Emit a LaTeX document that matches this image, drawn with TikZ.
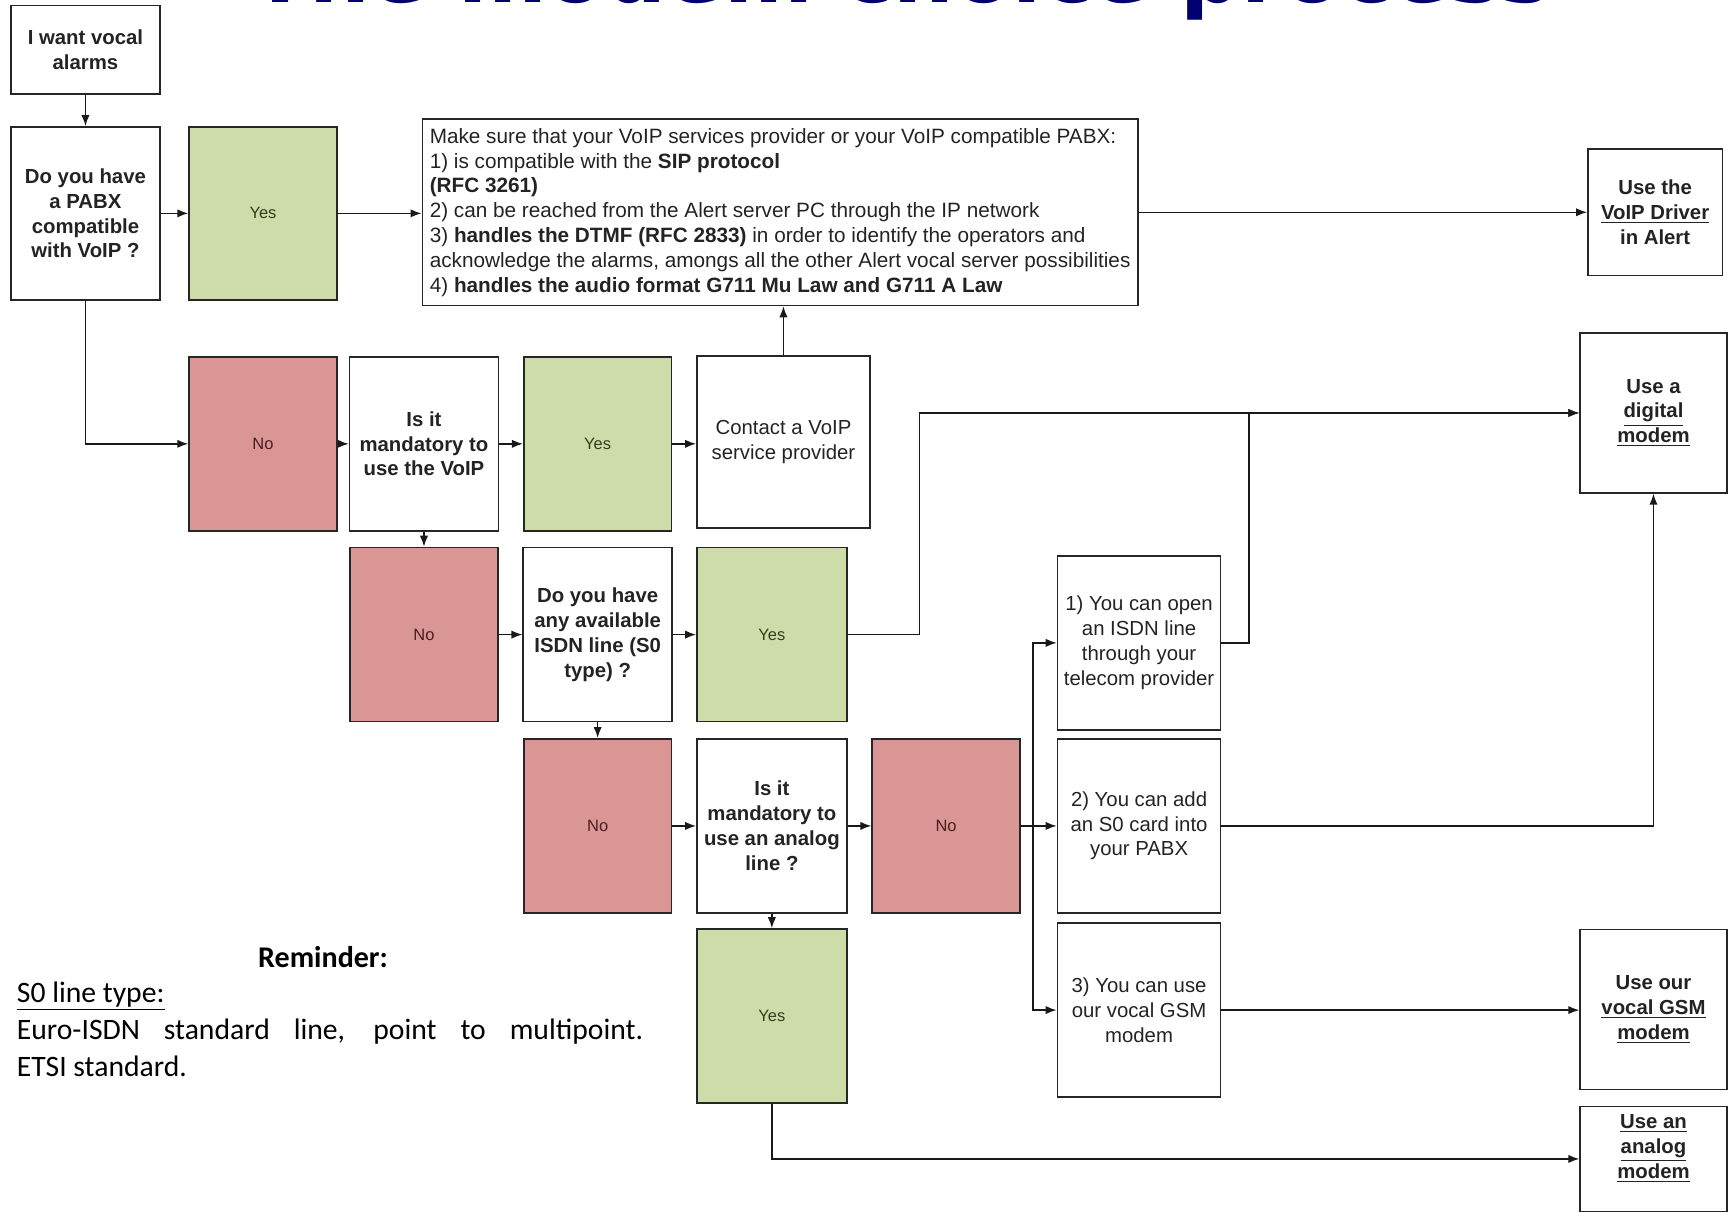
\documentclass[tikz,border=0pt]{standalone}
\usepackage{fontspec}
\setmainfont{Liberation Sans}
\newfontfamily\remfont{Carlito}
\newfontfamily\titlefont{DejaVu Sans}
\usetikzlibrary{positioning, arrows.meta}

\definecolor{yesgreen}{RGB}{205,220,168}
\definecolor{nored}{RGB}{217,150,148}
\definecolor{yestext}{RGB}{50,62,28}
\definecolor{notext}{RGB}{75,30,30}
\definecolor{titleblue}{RGB}{0,0,110}
\definecolor{boxtext}{RGB}{35,35,35}

\tikzset{
  box/.style={draw=black!85, line width=0.8pt, inner sep=1mm, align=center, text=boxtext,
    font=\fontsize{10.5}{12.8}\selectfont},
  qbox/.style={box, font=\fontsize{10.5}{12.8}\selectfont\bfseries, minimum width=27mm, minimum height=31.6mm},
  yesbox/.style={box, fill=yesgreen, text=yestext, font=\fontsize{8.5}{10}\selectfont,
    minimum width=26.8mm, minimum height=31.6mm},
  nobox/.style={box, fill=nored, text=notext, font=\fontsize{8.5}{10}\selectfont,
    minimum width=26.8mm, minimum height=31.6mm},
  optbox/.style={box, minimum width=29.6mm, minimum height=31.6mm},
  endbox/.style={box, font=\fontsize{10.5}{12.8}\selectfont\bfseries, minimum width=26.6mm},
  arr/.style={draw=black!90, line width=0.75pt, -{Latex[length=2mm, width=1.5mm]}},
}

\begin{document}
\begin{tikzpicture}[x=0.2mm, y=-0.2mm]
    \useasboundingbox (0,0) rectangle (1568,1099);
    \clip (0,0) rectangle (1568,1099);

    % title, cut by the top edge
    \node[anchor=base west, inner sep=0, text=titleblue, font=\titlefont\bfseries\fontsize{44}{50}\selectfont] (title) at (228,2) {The modem choice process};

    % first question
    \node[box, minimum width=27mm, minimum height=16mm, font=\fontsize{10.5}{12.8}\selectfont\bfseries] (start) at (77.5,45) {I want vocal\\alarms};
    \node[qbox, minimum height=31.4mm] (pabx) at (77.5,193.5) {Do you have\\a PABX\\compatible\\with VoIP ?};
    \node[yesbox, minimum height=31.4mm] (yes1) at (238.5,193.5) {Yes};
    \node[box, minimum width=129.8mm, minimum height=33.8mm, align=left, font=\fontsize{10.7}{12.8}\selectfont] (info) at (707.5,192.5) {Make sure that your VoIP services provider or your VoIP compatible PABX:\\
        1) is compatible with the \textbf{SIP protocol}\\
        \textbf{(RFC 3261)}\\
        2) can be reached from the Alert server PC through the IP network\\
        3) \textbf{handles the DTMF (RFC 2833)} in order to identify the operators and\\
        acknowledge the alarms, amongs all the other Alert vocal server possibilities\\
        4) \textbf{handles the audio format G711 Mu Law and G711 A Law}};
    \node[endbox, minimum width=24.4mm, minimum height=23mm] (driver) at (1501,192.5) {Use the\\\underline{VoIP Driver}\\in Alert};

    % VoIP row
    \node[nobox] (no1) at (238.5,402.5) {No};
    \node[qbox] (voipq) at (384.5,402.5) {Is it\\mandatory to\\use the VoIP};
    \node[yesbox] (yes2) at (542,402.5) {Yes};
    \node[box, minimum width=31.4mm, minimum height=31.2mm] (contact) at (710.5,401) {Contact a VoIP\\service provider};
    \node[endbox, minimum height=29mm] (digital) at (1499.5,374.5) {Use a\\\underline{digital}\\\underline{modem}};

    % ISDN row
    \node[nobox] (no2) at (384.5,575.5) {No};
    \node[qbox] (isdnq) at (542,575.5) {Do you have\\any available\\ISDN line (S0\\type) ?};
    \node[yesbox, minimum width=27.2mm] (yes3) at (700,575.5) {Yes};
    \node[optbox] (isdnopen) at (1033,583) {1) You can open\\an ISDN line\\through your\\telecom provider};

    % analog row
    \node[nobox] (no3) at (542,749) {No};
    \node[qbox, minimum width=27.2mm] (analogq) at (700,749) {Is it\\mandatory to\\use an analog\\line ?};
    \node[nobox] (no4) at (858,749) {No};
    \node[optbox] (s0card) at (1033,749) {2) You can add\\an S0 card into\\your PABX};
    \node[optbox] (gsmcard) at (1033,916) {3) You can use\\our vocal GSM\\modem};
    \node[yesbox, minimum width=27.2mm] (yes4) at (700,921.5) {Yes};
    \node[endbox, minimum height=29mm] (gsmmodem) at (1499.5,915.5) {Use our\\\underline{vocal GSM}\\\underline{modem}};
    \node[endbox, minimum height=19mm] (analogmodem) at (1499.5,1051) {\underline{Use an}\\\underline{analog}\\\underline{modem}\\\mbox{}};

    % reminder
    \node[anchor=base, inner sep=0, font=\remfont\bfseries\fontsize{15.5}{19}\selectfont] (remtitle) at (293,877) {Reminder:};
    \node[anchor=north west, inner sep=0, text width=113.6mm, align=justify, font=\remfont\fontsize{15.3}{19}\selectfont] (remtext) at (15,890)
        {\underline{S0 line type:}\\Euro-ISDN standard line, point to multipoint.\linebreak ETSI standard.};

    % connectors
    \draw[arr] (start) -- (pabx);
    \draw[arr] (pabx) -- (yes1);
    \draw[arr] (yes1.east) -- (yes1.east -| info.west);
    \draw[arr] (info) -- (driver);
    \draw[arr] (pabx.south) |- (no1.west);
    \draw[arr] (no1) -- (voipq);
    \draw[arr] (voipq) -- (yes2);
    \draw[arr] (yes2.east) -- (yes2.east -| contact.west);
    \draw[arr] (contact.north) -- (contact.north |- info.south);
    \draw[arr] (voipq) -- (no2);
    \draw[arr] (no2) -- (isdnq);
    \draw[arr] (isdnq) -- (yes3);
    \draw[arr] (yes3.east) -- ++(65,0) |- (digital.west);
    \draw[arr] (isdnq) -- (no3);
    \draw[arr] (no3) -- (analogq);
    \draw[arr] (analogq) -- (no4);
    \draw[arr] (no4) -- (s0card);
    \path (no4.east) ++(11,0) coordinate (split);
    \draw[arr] (split) |- (isdnopen.west);
    \draw[arr] (split) |- (gsmcard.west);
    \draw[arr] (isdnopen.east) -- ++(25,0) |- (digital.west);
    \draw[arr] (s0card.east) -| (digital.south);
    \draw[arr] (gsmcard.east) -- (gsmcard.east -| gsmmodem.west);
    \draw[arr] (analogq) -- (yes4);
    \draw[arr] (yes4.south) |- (analogmodem.west);
\end{tikzpicture}
\end{document}
